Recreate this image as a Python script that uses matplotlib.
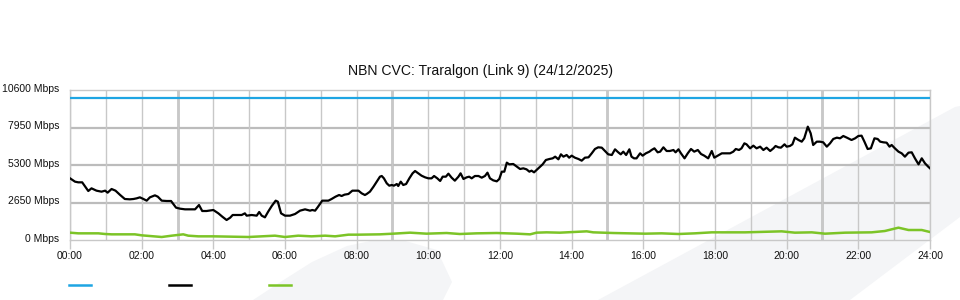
import matplotlib
matplotlib.use("Agg")
import matplotlib.pyplot as plt
import matplotlib.transforms as mtransforms
from matplotlib.patches import Polygon
from matplotlib.lines import Line2D
from matplotlib.ticker import MultipleLocator, FixedLocator

plt.rcParams['font.family'] = ['Liberation Sans', 'DejaVu Sans']

title = "NBN CVC: Traralgon (Link 9) (24/12/2025)"

# capacity (blue)
cap_hours = [0.0, 24.0]
cap_mbps = [10000, 10000]

# traffic (black)
black_hours = [
    0.00, 0.14, 0.23, 0.34, 0.51, 0.60, 0.74, 0.88, 0.98, 1.05, 1.16, 1.27, 1.40, 1.53, 1.67, 1.77,
    1.86, 1.95, 2.05, 2.14, 2.23, 2.37, 2.45, 2.56, 2.70, 2.82, 2.96, 3.07, 3.21, 3.35, 3.49, 3.60,
    3.69, 3.81, 4.00, 4.14, 4.25, 4.37, 4.47, 4.54, 4.65, 4.79, 4.88, 4.93, 5.07, 5.21, 5.28, 5.35,
    5.44, 5.53, 5.63, 5.74, 5.80, 5.89, 6.00, 6.14, 6.28, 6.42, 6.56, 6.70, 6.76, 6.84, 6.91, 7.04,
    7.21, 7.30, 7.41, 7.51, 7.58, 7.66, 7.77, 7.88, 8.05, 8.14, 8.23,
    8.28, 8.37, 8.47, 8.56, 8.65, 8.70, 8.76, 8.84, 8.91, 8.98, 9.04, 9.12, 9.16, 9.23, 9.30, 9.38,
    9.47, 9.56, 9.63, 9.72, 9.81, 9.91, 10.00, 10.09, 10.16, 10.25, 10.33, 10.40, 10.49, 10.56, 10.65,
    10.74, 10.84, 10.90, 10.98, 11.07, 11.14, 11.21, 11.30, 11.40, 11.49, 11.58, 11.65, 11.72, 11.81,
    11.91, 11.98, 12.05, 12.12, 12.19, 12.26, 12.37, 12.47, 12.56, 12.65, 12.74, 12.82, 12.88, 12.95,
    13.02, 13.10, 13.19, 13.28, 13.38, 13.47, 13.54, 13.63, 13.70, 13.77, 13.86, 13.93, 14.00, 14.09,
    14.19, 14.28, 14.37, 14.47, 14.56, 14.65, 14.74, 14.84, 14.93, 15.02, 15.12, 15.21, 15.30, 15.37,
    15.44, 15.52, 15.61, 15.67, 15.74, 15.81, 15.91, 15.98, 16.07, 16.17,
    16.23, 16.31, 16.40, 16.47, 16.56, 16.65, 16.74, 16.84, 16.90, 16.98, 17.05, 17.15, 17.24, 17.33,
    17.42, 17.52, 17.61, 17.70, 17.81, 17.91, 17.98, 18.08, 18.19, 18.33, 18.42, 18.51, 18.58, 18.67,
    18.74, 18.82, 18.88, 18.98, 19.07, 19.16, 19.26, 19.35, 19.44, 19.54, 19.63, 19.69, 19.77, 19.84,
    19.94, 20.00, 20.09, 20.16, 20.23, 20.33, 20.42, 20.49, 20.59, 20.67, 20.74, 20.84, 20.93, 21.02,
    21.12, 21.21, 21.30, 21.40, 21.49, 21.58, 21.68, 21.81, 21.91, 22.00, 22.09, 22.17, 22.26, 22.35,
    22.45, 22.54, 22.61, 22.70, 22.79, 22.87, 22.93, 23.02, 23.12, 23.21, 23.30, 23.40, 23.49, 23.58,
    23.68, 23.77, 23.86, 23.95, 24.00,
]
black_mbps = [
    4360, 4122, 4075, 4075, 3463, 3651, 3486, 3415, 3486, 3345, 3604, 3486, 3180, 2897, 2874, 2897,
    2944, 3015, 2897, 2780, 3015, 3156, 3062, 2780, 2756, 2756, 2285, 2214, 2167, 2167, 2167, 2473,
    2049, 2049, 2120, 1884, 1649, 1413, 1578, 1767, 1767, 1767, 1884, 1720, 1767, 1720, 1979, 1720,
    1602, 2002, 2403, 2780, 2709, 1884, 1720, 1720, 1837, 2073, 2167, 2073, 2120, 2073, 2308, 2780,
    2780, 2897, 3062, 3180, 3109, 3204, 3251, 3486, 3486, 3298, 3180,
    3251, 3416, 3769, 4122, 4475, 4523, 4358, 4004, 3839, 3887, 3839, 3957, 3816, 4122, 3887, 3957,
    4358, 4711, 4876, 4711, 4546, 4428, 4358, 4358, 4523, 4358, 4170, 4475, 4475, 4688, 4405,
    4193, 4475, 4711, 4311, 4428, 4475, 4358, 4523, 4523, 4405, 4523, 4758, 4358, 4216,
    4146, 4311, 4829, 4829, 5465, 5347, 5371, 5182, 5017, 5065, 4994, 4829, 4900, 4782,
    4947, 5135, 5347, 5653, 5724, 5771, 5889, 5700, 6054, 5889, 6007, 5818, 5960, 5818,
    5724, 5606, 5818, 5842, 6125, 6431, 6549, 6525, 6290, 6054, 6007, 6408, 6196, 6054,
    6243, 6007, 6408, 5889, 5771, 5771, 6125, 5960, 6125, 6243,
    6360, 6478, 6196, 6243, 6549, 6290, 6290, 6360, 6196, 6408, 6125, 5771, 6125, 6431,
    6243, 6360, 6078, 5960, 5771, 6290, 5818, 5960, 6125, 6125, 6125, 6243, 6431, 6360,
    6478, 6831, 6761, 6478, 6667, 6478, 6596, 6360, 6525, 6290, 6478, 6643, 6549, 6525,
    6761, 6596, 6643, 6761, 7232, 7067, 6949, 7185, 8009, 7538, 6714, 6949, 6949, 6902,
    6596, 6831, 7138, 7232, 7185, 7350, 7232, 7067, 7185, 7350, 7373, 6949, 6431, 6478,
    7185, 7138, 6949, 6902, 6878, 6596, 6714, 6478, 6243, 6125, 5889, 6172, 6196, 5771,
    5347, 5771, 5418, 5182, 5065,
]

# traffic (green)
green_hours = [
    0.00, 0.23, 0.79, 0.98, 1.16, 1.81, 2.00, 2.56, 2.84, 3.16, 3.30, 3.58, 4.00, 4.98, 5.72, 6.00,
    6.37, 6.74, 7.12, 7.40, 7.77, 8.05, 8.65, 9.02, 9.49, 9.95, 10.51, 10.88, 11.35, 11.91, 12.47,
    12.84, 13.02, 13.30, 13.67, 14.05, 14.42, 14.60, 15.16, 16.05, 16.51, 16.98, 17.44, 17.91, 18.84,
    19.86, 20.23, 20.70, 21.07, 21.63, 22.37, 22.74, 23.12, 23.40, 23.77, 24.00,
]
green_mbps = [
    518, 471, 471, 424, 400, 400, 330, 212, 306, 400, 306, 259, 259, 212, 306, 212,
    306, 259, 306, 259, 377, 377, 400, 447, 518, 447, 494, 424, 471, 494, 447,
    400, 518, 541, 518, 565, 612, 541, 494, 447, 471, 424, 471, 541, 541,
    612, 518, 541, 447, 518, 541, 636, 871, 706, 706, 565,
]

y_ticks = [0, 2650, 5300, 7950, 10600]
x_tick_labels = ["00:00", "02:00", "04:00", "06:00", "08:00", "10:00", "12:00",
                 "14:00", "16:00", "18:00", "20:00", "22:00", "24:00"]

BLUE = "#1ea5e3"
BLACK = "#000000"
GREEN = "#7cc427"
GRID = "#c8c8c8"
GRID_DARK = "#bcbcbc"
WM = "#f4f5f7"

W, H = 960, 300
fig = plt.figure(figsize=(9.6, 3.0), dpi=100)
fig.patch.set_facecolor("white")


def fx(px):
    return px / W


def fy(py):
    return 1 - py / H


# background watermark shapes
left_shape = [(253, 300), (282, 281), (312, 262), (347, 246), (375, 240), (402, 240),
              (437, 250), (452, 282), (443, 300)]
right_shape = [(598, 300), (955, 107), (960, 106), (960, 217), (850, 300)]
for shp in (left_shape, right_shape):
    fig.patches.append(Polygon([(fx(x), fy(y)) for x, y in shp], closed=True,
                               transform=fig.transFigure, facecolor=WM,
                               edgecolor="none", zorder=-5))

ax = fig.add_axes([fx(70), fy(240), fx(860), 150 / H])
ax.set_facecolor("none")
ax.set_xlim(0, 24)
ax.set_ylim(0, 10600)

# grid
ax.xaxis.set_major_locator(FixedLocator(list(range(0, 25, 2))))
ax.xaxis.set_minor_locator(MultipleLocator(1))
ax.set_xticklabels(x_tick_labels)
ax.set_yticks(y_ticks)
ax.set_yticklabels([f"{v} Mbps" for v in y_ticks])
ax.grid(which="both", axis="x", color=GRID, linewidth=1.0, zorder=0)
for h in range(3, 24, 6):
    ax.axvline(h, color=GRID_DARK, linewidth=1.8, zorder=0.5)
for v in y_ticks[1:-1]:
    ax.axhline(v, color=GRID_DARK, linewidth=1.6, zorder=0.5)
ax.set_axisbelow(True)

for s in ax.spines.values():
    s.set_color(GRID)
    s.set_linewidth(1.0)

ax.tick_params(axis="x", which="major", length=6.5, width=1.0, color=GRID,
               labelsize=7.5, pad=1.5, labelcolor="#111111")
ax.tick_params(axis="x", which="minor", length=0)
ax.tick_params(axis="y", length=0, labelsize=7.5, pad=7.5, labelcolor="#111111")

# y labels sit ~2px above their grid lines in the reference
up = mtransforms.ScaledTranslation(0, 1.5 / 72, fig.dpi_scale_trans)
for lbl in ax.get_yticklabels():
    lbl.set_transform(lbl.get_transform() + up)

ax.plot(cap_hours, cap_mbps, color=BLUE, linewidth=1.6, zorder=3, solid_capstyle="butt")
ax.plot(green_hours, green_mbps, color=GREEN, linewidth=1.8, zorder=3)
ax.plot(black_hours, black_mbps, color=BLACK, linewidth=1.6, zorder=4)

fig.text(0.5, fy(71), title, ha="center", va="center", fontsize=10.1, color="#111111")

# legend swatches
for x0, c in ((69, BLUE), (169, BLACK), (269, GREEN)):
    fig.lines.append(Line2D([fx(x0), fx(x0 + 22)], [fy(285), fy(285)],
                            transform=fig.transFigure, color=c, linewidth=1.8))

fig.savefig("out.png", dpi=100, facecolor="white")
